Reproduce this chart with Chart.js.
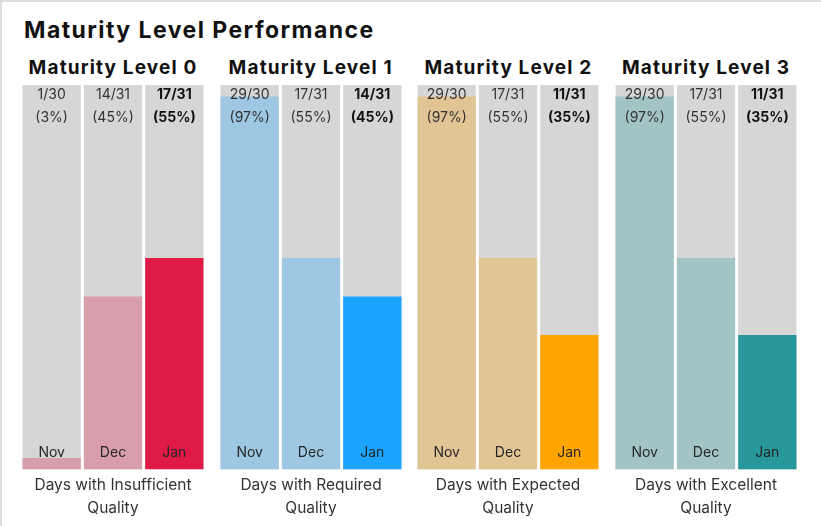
<!DOCTYPE html>
<html lang="en">
<head>
<meta charset="UTF-8">
<script src="https://cdn.jsdelivr.net/npm/chart.js"></script>
<style>
    body { margin: 0; width: 821px; height: 526px; overflow: hidden; background: #fff; font-family: Inter, sans-serif; }
    .frame { position: absolute; left: 0; top: 0; width: 819px; height: 524px; border-left: 2px solid #dcdcdc; border-top: 2px solid #dcdcdc; }
    h1 { position: absolute; left: 24px; top: 16px; margin: 0; font-size: 23px; line-height: 28px; font-weight: 700; letter-spacing: 1.45px; color: #111; }
    .level { position: absolute; top: 55px; width: 184px; text-align: center; font-size: 19px; line-height: 26px; font-weight: 700; letter-spacing: 1.15px; color: #111; }
    canvas { position: absolute; top: 50px; }
</style>
</head>
<body>
<div class="frame"></div>
<h1>Maturity Level Performance</h1>
<div id="panels"></div>
<script>
const months = ['Nov', 'Dec', 'Jan'];
const levels = ['Maturity Level 0', 'Maturity Level 1', 'Maturity Level 2', 'Maturity Level 3'];
const captions = [
    ['Days with Insufficient', 'Quality'],
    ['Days with Required', 'Quality'],
    ['Days with Expected', 'Quality'],
    ['Days with Excellent', 'Quality']
];
const totals = [30, 31, 31];
const level0Days = [1, 14, 17];
const level1Days = [29, 17, 14];
const level2Days = [29, 17, 11];
const level3Days = [29, 17, 11];
const level0Pct = [3, 45, 55];
const level1Pct = [97, 55, 45];
const level2Pct = [97, 55, 35];
const level3Pct = [97, 55, 35];
const fullPct = [100, 100, 100];

const days = [level0Days, level1Days, level2Days, level3Days];
const pcts = [level0Pct, level1Pct, level2Pct, level3Pct];
const lightColors = ['#d99eab', '#9dc7e2', '#e2c595', '#a2c4c4'];
const darkColors = ['#df1a47', '#1aa3ff', '#ffa500', '#26979b'];

const FONT = 'Inter, sans-serif';

// fraction + percentage at the top of each bar, month name at the bottom
const barLabels = {
    id: 'barLabels',
    afterDatasetsDraw(chart) {
        const ctx = chart.ctx;
        const meta = chart.getDatasetMeta(0);
        const lvl = chart.options.plugins.barLabels.level;
        const top = chart.chartArea.top;
        const bottom = chart.chartArea.bottom;
        ctx.save();
        ctx.textAlign = 'center';
        ctx.textBaseline = 'middle';
        meta.data.forEach((bar, i) => {
            const last = i === months.length - 1;
            ctx.fillStyle = last ? '#111' : '#333';
            ctx.font = (last ? '700 ' : '400 ') + '14px ' + FONT;
            ctx.fillText(days[lvl][i] + '/' + totals[i], bar.x, top + 10);
            ctx.fillText('(' + pcts[lvl][i] + '%)', bar.x, top + 33);
            ctx.fillStyle = '#262626';
            ctx.font = '400 14px ' + FONT;
            ctx.fillText(months[i], bar.x, bottom - 17);
        });
        ctx.restore();
    }
};

const panels = document.getElementById('panels');

levels.forEach((name, lvl) => {
    const left = 21 + lvl * 197.7;

    const head = document.createElement('div');
    head.className = 'level';
    head.style.left = left + 'px';
    head.textContent = name;
    panels.appendChild(head);

    const canvas = document.createElement('canvas');
    canvas.width = 184;
    canvas.height = 476;
    canvas.style.left = left + 'px';
    panels.appendChild(canvas);

    new Chart(canvas, {
        type: 'bar',
        data: {
            labels: months,
            datasets: [
                {
                    data: pcts[lvl],
                    backgroundColor: [lightColors[lvl], lightColors[lvl], darkColors[lvl]],
                    grouped: false,
                    order: 0,
                    barPercentage: 0.95,
                    categoryPercentage: 1
                },
                {
                    data: fullPct,
                    backgroundColor: '#d6d6d6',
                    grouped: false,
                    order: 1,
                    barPercentage: 0.95,
                    categoryPercentage: 1
                }
            ]
        },
        options: {
            responsive: false,
            animation: false,
            devicePixelRatio: 1,
            layout: { padding: { top: 35 } },
            plugins: {
                legend: { display: false },
                tooltip: { enabled: false },
                title: { display: false },
                barLabels: { level: lvl }
            },
            scales: {
                x: {
                    grid: { display: false, drawTicks: false },
                    border: { display: false },
                    ticks: { display: false },
                    title: {
                        display: true,
                        text: captions[lvl],
                        color: '#333',
                        font: { family: FONT, size: 15.5, lineHeight: 1.5 },
                        padding: { top: 4, bottom: 6 }
                    }
                },
                y: { display: false, min: 0, max: 100 }
            }
        },
        plugins: [barLabels]
    });
});
</script>
</body>
</html>
